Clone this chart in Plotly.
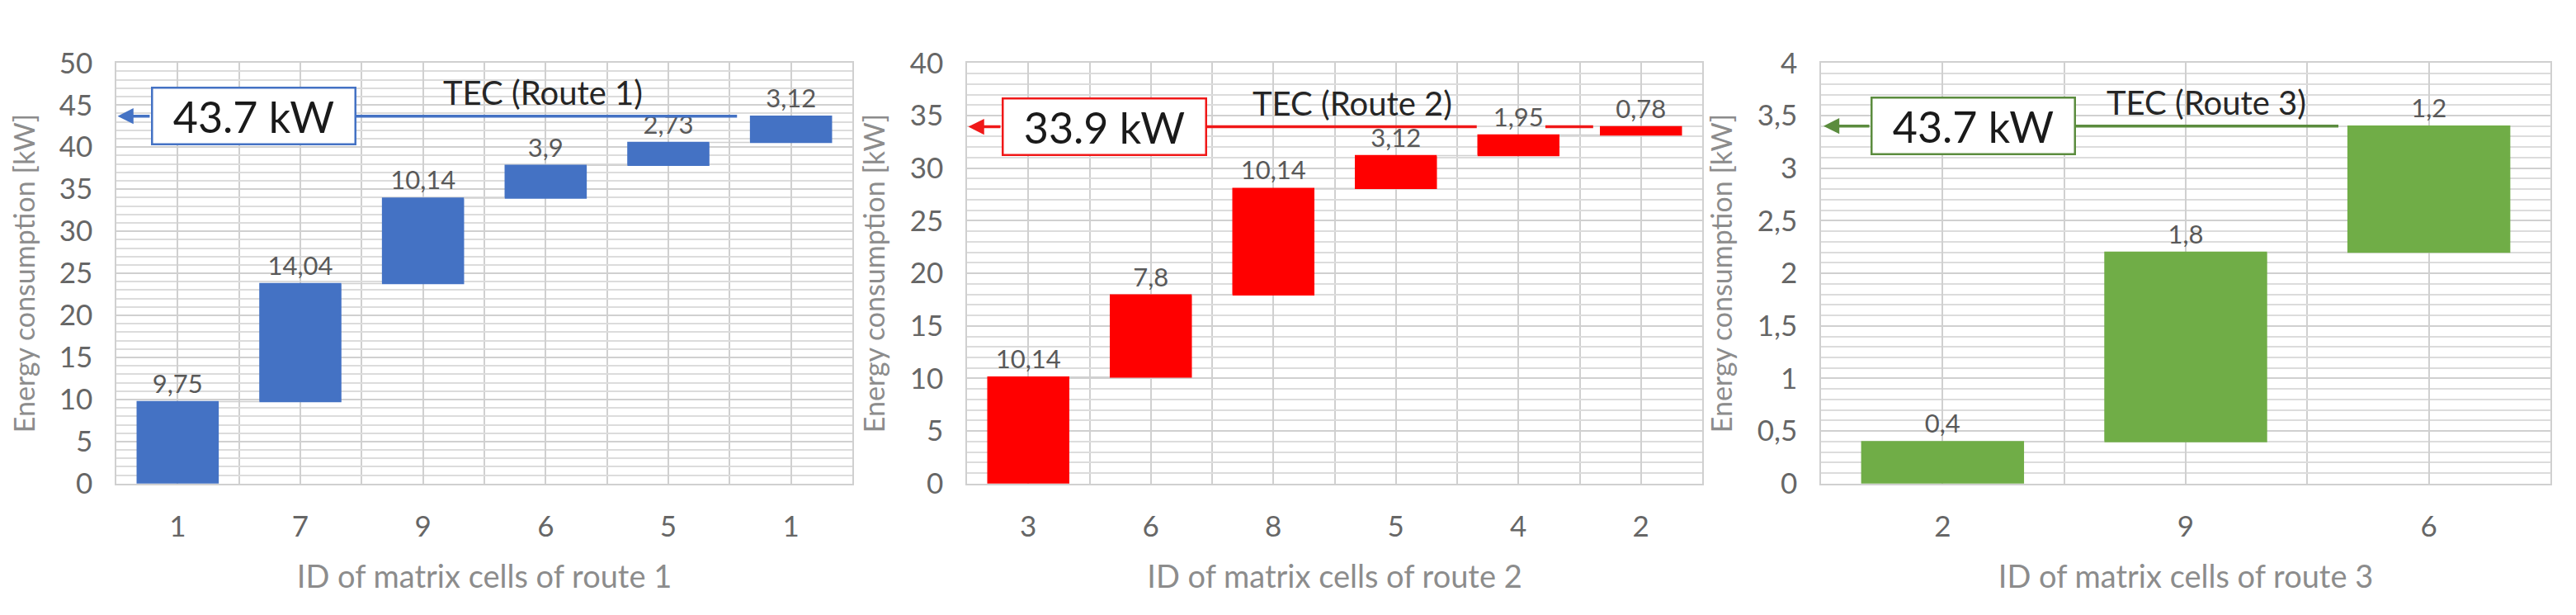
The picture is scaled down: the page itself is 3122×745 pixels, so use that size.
import plotly.graph_objects as go

# ---------------- data ----------------
route1_ids = ["1", "7", "9", "6", "5", "1"]
route1_vals = [9.75, 14.04, 10.14, 3.9, 2.73, 3.12]

route2_ids = ["3", "6", "8", "5", "4", "2"]
route2_vals = [10.14, 7.8, 10.14, 3.12, 1.95, 0.78]

route3_ids = ["2", "9", "6"]
route3_vals = [0.4, 1.8, 1.2]

tec_box_labels = ["43.7 kW", "33.9 kW", "43.7 kW"]
tec_titles = ["TEC (Route 1)", "TEC (Route 2)", "TEC (Route 3)"]
x_titles = ["ID of matrix cells of route 1", "ID of matrix cells of route 2",
            "ID of matrix cells of route 3"]
y_title = "Energy consumption [kW]"

# ---------------- styling / layout config ----------------
W, H = 3122, 745
FONT = "Lato"
bar_colors = ["#4472C4", "#FF0000", "#70AD47"]
line_colors = ["#4472C4", "#F01818", "#5B8C3E"]
x_domains = [(133 / W, 1025 / W), (1164 / W, 2055 / W), (2199 / W, 3083 / W)]
y_domain = ((H - 588) / H, (H - 48) / H)
y_max = [50, 40, 4]
y_major = [5, 5, 0.5]
y_minor = [1, 1, 0.1]
# annotation placement (in category units)
box_left = [-0.218, -0.217, -0.296]
tec_x = [2.98, 2.645, 1.085]
line_segments = [[(-0.1, 4.56)], [(-0.1, 3.66), (4.22, 4.61)], [(-0.2, 1.628)]]

routes = [(route1_ids, route1_vals), (route2_ids, route2_vals), (route3_ids, route3_vals)]


def fmt(v):
    return f"{v:g}".replace(".", ",")


fig = go.Figure()
shapes, annotations = [], []
for i, (ids, vals) in enumerate(routes):
    n = len(ids)
    xa = "x" if i == 0 else f"x{i + 1}"
    ya = "y" if i == 0 else f"y{i + 1}"
    fig.add_trace(go.Waterfall(
        x=list(range(n)), y=vals, measure=["relative"] * n,
        text=[fmt(v) for v in vals], textposition="outside",
        textfont=dict(family=FONT, size=31, color="#595959"),
        increasing=dict(marker=dict(color=bar_colors[i], line=dict(width=0))),
        connector=dict(line=dict(color="#d0d0d0", width=1.5)),
        xaxis=xa, yaxis=ya, showlegend=False, cliponaxis=False,
    ))
    total = sum(vals)
    axkey = "xaxis" if i == 0 else f"xaxis{i + 1}"
    aykey = "yaxis" if i == 0 else f"yaxis{i + 1}"
    fig.layout[axkey] = dict(
        domain=x_domains[i], anchor=ya, range=[-0.5, n - 0.5],
        tickmode="array", tickvals=list(range(n)), ticktext=ids,
        tickfont=dict(family=FONT, size=35, color="#666666"),
        showgrid=True, gridcolor="#d0d0d0", gridwidth=1.5,
        minor=dict(tickmode="array", tickvals=[k - 0.5 for k in range(n + 1)],
                   showgrid=True, gridcolor="#d0d0d0", gridwidth=1.5),
        showline=True, linecolor="#d0d0d0", linewidth=1.5, mirror=True,
        zeroline=False, ticks="", ticklabelstandoff=20,
        title=dict(text=x_titles[i], font=dict(family=FONT, size=38, color="#8c8c8c"),
                   standoff=30),
        fixedrange=True,
    )
    fig.layout[aykey] = dict(
        domain=y_domain, anchor=xa, range=[0, y_max[i]],
        tickmode="linear", tick0=0, dtick=y_major[i],
        tickfont=dict(family=FONT, size=35, color="#666666"),
        showgrid=True, gridcolor="#d0d0d0", gridwidth=1.5,
        minor=dict(dtick=y_minor[i], showgrid=True, gridcolor="#dcdcdc", gridwidth=1.5),
        showline=True, linecolor="#d0d0d0", linewidth=1.5, mirror=True,
        zeroline=False, ticks="", ticklabelstandoff=20,
        title=dict(text=y_title, font=dict(family=FONT, size=34, color="#8c8c8c"),
                   standoff=20),
        fixedrange=True,
    )
    # TEC line
    for (x0, x1) in line_segments[i]:
        shapes.append(dict(type="line", xref=xa, yref=ya, x0=x0, x1=x1, y0=total, y1=total,
                           line=dict(color=line_colors[i], width=3.5), layer="above"))
    # arrow pointing to the y axis
    annotations.append(dict(x=-0.49, y=total, ax=box_left[i], ay=total, xref=xa, yref=ya,
                            axref=xa, ayref=ya, text="", showarrow=True, arrowhead=2,
                            arrowsize=1.1, arrowwidth=3.5, arrowcolor=line_colors[i], standoff=0))
    # value box
    annotations.append(dict(x=box_left[i], y=total, xref=xa, yref=ya, xanchor="left",
                            yanchor="middle", text=tec_box_labels[i], showarrow=False,
                            font=dict(family=FONT, size=52, color="#1a1a1a"),
                            bgcolor="white", bordercolor=line_colors[i], borderwidth=2.5,
                            borderpad=4, width=236, height=58, align="center"))
    # TEC title
    annotations.append(dict(x=tec_x[i], y=total, xref=xa, yref=ya, xanchor="center",
                            yanchor="bottom", yshift=3, text=tec_titles[i], showarrow=False,
                            font=dict(family=FONT, size=40, color="#262626")))

fig.update_layout(
    width=W, height=H, margin=dict(l=0, r=0, t=0, b=0),
    paper_bgcolor="white", plot_bgcolor="white",
    waterfallgap=0.33, separators=", ",
    shapes=shapes, annotations=annotations,
    font=dict(family=FONT),
)
fig.write_html("out.html")
